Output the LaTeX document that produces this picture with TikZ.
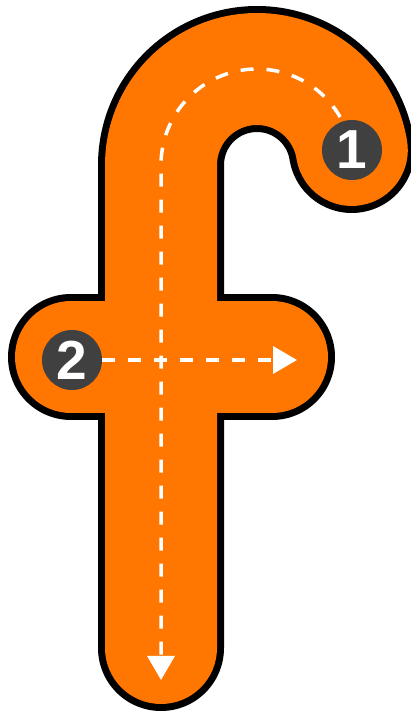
\documentclass[tikz,border=0pt]{standalone}
\usepackage{fontspec}
\setmainfont{Liberation Sans}
\usetikzlibrary{arrows.meta,calc}
\definecolor{forange}{RGB}{255,119,0}
\definecolor{dgray}{RGB}{64,64,64}
\begin{document}
\begin{tikzpicture}[x=1pt,y=1pt,
  outline/.style={black,line width=126pt,line cap=round,line join=round},
  body/.style={forange,line width=112pt,line cap=round,line join=round},
  guide/.style={white,line width=3.5pt,dash pattern=on 13pt off 13pt},
  guidetip/.style={-{Triangle[width=27pt,length=24pt]}},
  numdot/.style={circle,fill=dgray,minimum size=60pt,inner sep=0pt,text=white,
    font=\fontsize{55}{55}\selectfont\bfseries}]
\useasboundingbox (0,0) rectangle (411,715);
% key points of the letter
\coordinate (sb) at (161,67);
\coordinate (sk) at (161,550);
\coordinate (hc) at (257,550);
\coordinate (xl) at (71,358);
\coordinate (xr) at (272,358);
% outline
\draw[outline] (sb) -- (sk) arc[start angle=180,end angle=9,radius=96pt];
\draw[outline] (xl) -- (xr);
% body
\draw[body] (sb) -- (sk) arc[start angle=180,end angle=9,radius=96pt];
\draw[body] (xl) -- (xr);
% numbered dots
\node[numdot] (c1) at (352,565) {1};
\node[numdot] (c2) at (72,355) {2};
% guide arrows
\coordinate (g1) at ($(hc)+(30:96pt)$);
\coordinate (t1) at (161,35);
\coordinate (t2) at (297,355);
\draw[guide,guidetip] (g1) arc[start angle=30,end angle=180,radius=96pt] -- (t1);
\draw[guide,guidetip] (c2.east) -- (t2);
\end{tikzpicture}
\end{document}
